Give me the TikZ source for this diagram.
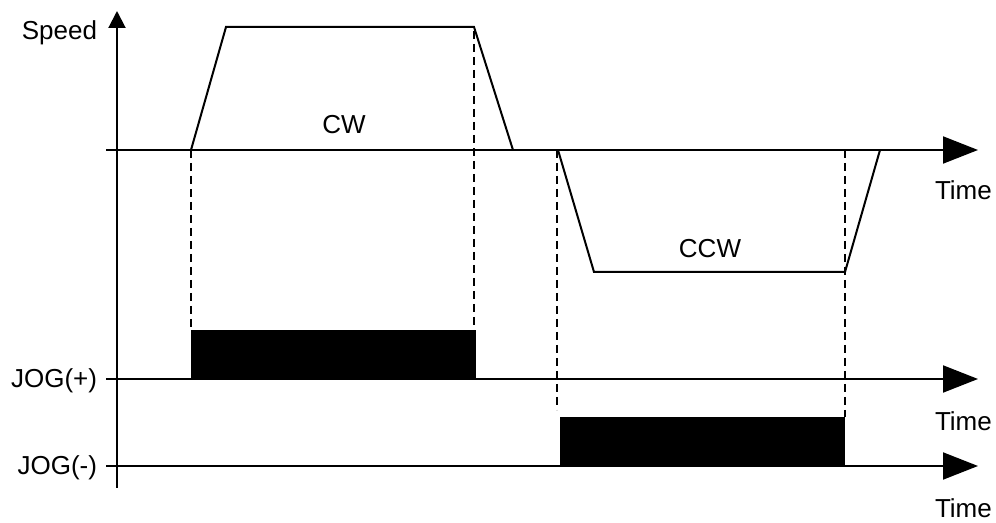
\documentclass[tikz,border=0pt]{standalone}
\usepackage{fontspec}
\setmainfont{Liberation Sans}
\usetikzlibrary{arrows.meta}

\begin{document}
\begin{tikzpicture}[x=0.5pt,y=-0.5pt,line width=1pt,
    lbl/.style={font=\fontsize{13}{15}\selectfont, inner sep=0pt},
    timeaxis/.style={-{Triangle[length=17.5pt,width=13.5pt]}},
    guide/.style={dash pattern=on 4pt off 2.5pt}]
    \useasboundingbox (0,0) rectangle (996,523);

    % Axes
    \coordinate (vbot) at (117,488);
    \coordinate (vtop) at (117,11);
    \draw[-{Triangle[length=8.5pt,width=8.5pt]}] (vbot) -- (vtop);
    \coordinate (s0) at (106,150);
    \coordinate (s1) at (978,150);
    \coordinate (p0) at (106,379);
    \coordinate (p1) at (978,379);
    \coordinate (m0) at (106,466);
    \coordinate (m1) at (978,466);
    \draw[timeaxis] (s0) -- (s1);
    \draw[timeaxis] (p0) -- (p1);
    \draw[timeaxis] (m0) -- (m1);

    % Labels
    \node[lbl, anchor=base east] (speed) at (98,40) {Speed};
    \node[lbl, anchor=base east] (jogp) at (98,388) {JOG(+)};
    \node[lbl, anchor=base east] (jogm) at (98,474) {JOG(-)};
    \node[lbl, anchor=base west] (time1) at (934,200) {Time};
    \node[lbl, anchor=base west] (time2) at (934,430) {Time};
    \node[lbl, anchor=base west] (time3) at (934,517) {Time};

    % CW profile
    \coordinate (cwa) at (191,150);
    \coordinate (cwb) at (226,27);
    \coordinate (cwc) at (474,27);
    \coordinate (cwd) at (513,150);
    \draw (cwa) -- (cwb) -- (cwc) -- (cwd);
    \node[lbl, anchor=base] (cw) at (344,134) {CW};

    % CCW profile
    \coordinate (ccwa) at (558,150);
    \coordinate (ccwb) at (594,272);
    \coordinate (ccwc) at (845,272);
    \coordinate (ccwd) at (880,150);
    \draw (ccwa) -- (ccwb) -- (ccwc) -- (ccwd);
    \node[lbl, anchor=base] (ccw) at (710,258) {CCW};

    % JOG signals
    \fill (191,330) rectangle (476,379);
    \fill (560,417) rectangle (845,466);

    % Guides
    \coordinate (g1) at (191,330);
    \coordinate (g2a) at (474,31);
    \coordinate (g2) at (474,330);
    \coordinate (g3a) at (557,150);
    \coordinate (g3) at (557,410);
    \coordinate (g4a) at (845,150);
    \coordinate (g4) at (845,417);
    \draw[guide] (cwa) -- (g1);
    \draw[guide] (g2a) -- (g2);
    \draw[guide] (g3a) -- (g3);
    \draw[guide] (g4a) -- (g4);
\end{tikzpicture}
\end{document}
